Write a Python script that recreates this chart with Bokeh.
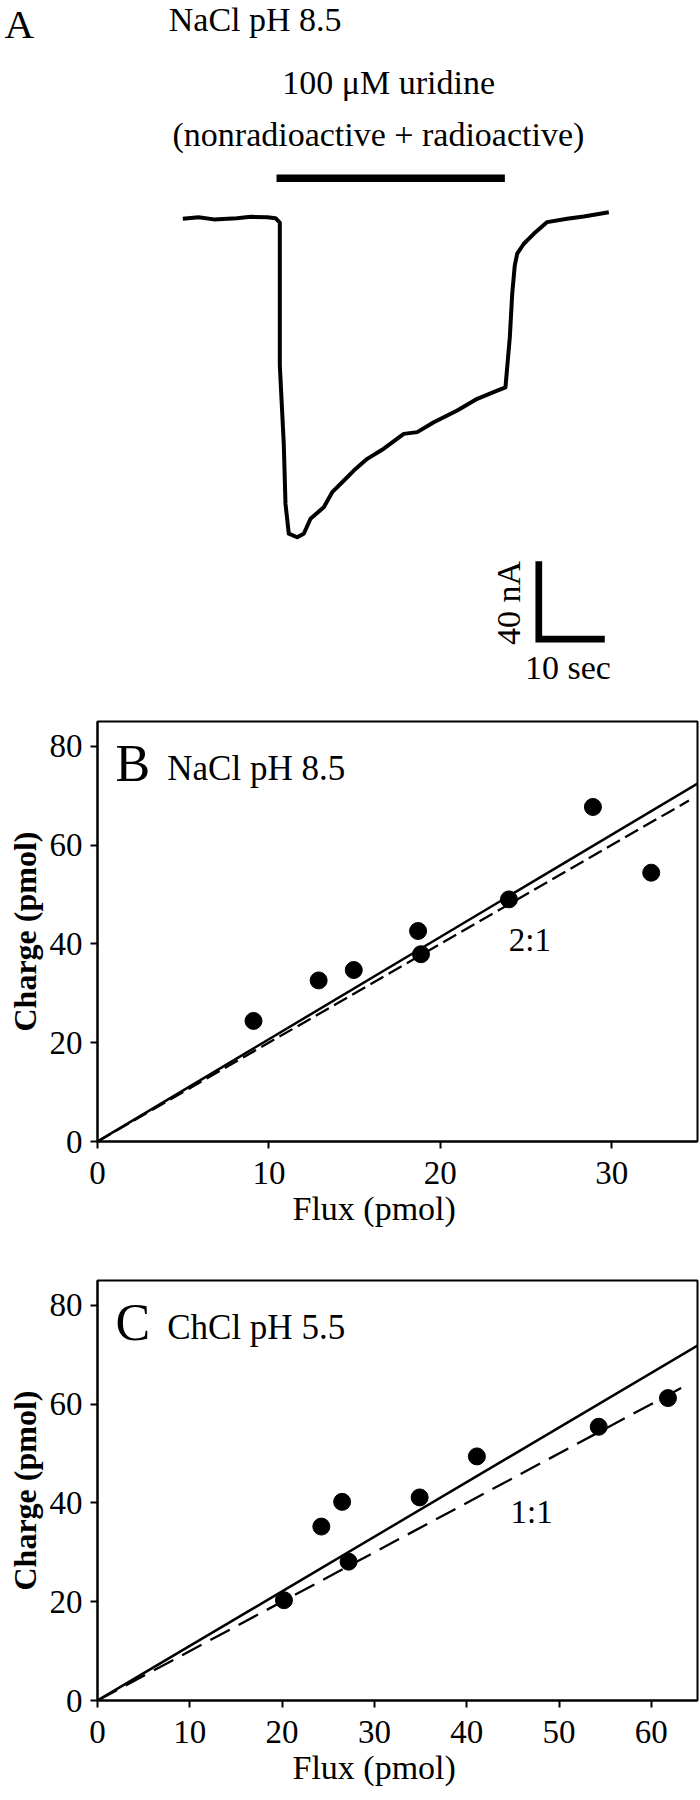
import numpy as np
from bokeh.plotting import figure
from bokeh.models import Label, FixedTicker, Range1d, Title
from bokeh.layouts import column
from bokeh.embed import file_html
from bokeh.resources import INLINE

FONT = "Liberation Serif"

# ---------------- data ----------------
# Panel A: current trace (time in s, current in nA)
trace_t = [0, 2.4, 4.7, 8.2, 10.3, 12.8, 14.05, 14.7, 14.7, 15.3, 15.56, 16.06,
           17.33, 18.33, 19.35, 21.36, 22.64, 24.15, 25.91, 27.94, 30.45, 33.48,
           35.52, 38.03, 41.58, 44.61, 47.64, 48.89, 49.24, 49.55, 49.91, 50.3,
           50.67, 51.67, 53.18, 55.21, 58.24, 60.76, 64.55]
trace_i = [0, 0.8, -0.3, 0.3, 1.0, 0.8, 0.3, -2.0, -75.2, -115.4, -146.2, -161.5,
           -163.3, -161.5, -153.8, -147.9, -140.2, -135.1, -129.1, -123.1, -117.9,
           -110.3, -109.4, -104.3, -98.3, -92.3, -88.1, -86.4, -72.7, -60.7, -38.5,
           -23.9, -17.9, -12.8, -7.7, -1.7, 0, 1.2, 3.4]
uridine_on = 14.2
uridine_off = 48.8
scale_time = 10     # sec
scale_current = 40  # nA

# Panel B: NaCl pH 8.5
b_flux = [9.1, 12.9, 14.95, 18.7, 18.87, 24.0, 28.9, 32.3]
b_charge = [24.4, 32.6, 34.7, 42.6, 37.9, 49.0, 67.7, 54.4]
b_fit_slope = 2.07
b_ratio = 2.0
b_ratio_label = "2:1"
b_x_ticks = [0, 10, 20, 30]

# Panel C: ChCl pH 5.5
c_flux = [20.2, 24.25, 26.5, 27.2, 34.9, 41.1, 54.3, 61.8]
c_charge = [20.3, 35.2, 40.2, 28.1, 41.1, 49.4, 55.4, 61.2]
c_fit_slope = 1.105
c_ratio = 1.0
c_ratio_label = "1:1"
c_x_ticks = [0, 10, 20, 30, 40, 50, 60]

y_ticks = [0, 20, 40, 60, 80]

# ---------------- Panel A ----------------
pa = figure(width=700, height=700, x_range=Range1d(-27.62, 78.44),
            y_range=Range1d(-247.03, 111.95), x_axis_type=None, y_axis_type=None,
            output_backend="svg", toolbar_location=None, min_border=0,
            frame_align=False)
pa.grid.visible = False
pa.outline_line_color = None

pa.line(trace_t, trace_i, line_width=4, color="black", line_join="round")
bar_y = 20.8
pa.line([uridine_on, uridine_off], [bar_y, bar_y], line_width=7.5, color="black",
        line_cap="butt")
sb_t, sb_i = 53.94, -175.6
pa.line([sb_t, sb_t, sb_t + scale_time],
        [sb_i, sb_i - scale_current, sb_i - scale_current],
        line_width=6.7, color="black", line_join="miter", line_cap="butt")


def lab(p, x, y, text, size, align="left", baseline="alphabetic", angle=0.0,
        style="normal"):
    # y for "alphabetic" labels is given at the em-centre of the text
    p.add_layout(Label(x=x, y=y, text=text, text_font=FONT, text_font_size=size,
                       text_align=align, text_baseline=baseline, angle=angle,
                       text_font_style=style, text_color="black"))


lab(pa, -27.0, 100.0, "A", "41px")
lab(pa, -2.12, 102.2, "NaCl pH 8.5", "34px")
lab(pa, 31.2, 69.95, "100 μM uridine", "34px", align="center")
lab(pa, 29.64, 43.45, "(nonradioactive + radioactive)", "34px", align="center")
lab(pa, 49.39, -197.0, "40 nA", "34px", align="center", baseline="middle",
    angle=np.pi / 2)
lab(pa, 58.36, -230.05, "10 sec", "34px", align="center")


# ---------------- Panels B, C ----------------
def scatter_panel(top, bottom, xmax, xticks, flux, charge, fit_slope,
                  ratio, ratio_end, dash, letter, cond, ratio_label, rl_xy,
                  letter_x, cond_x):
    p = figure(frame_width=600, frame_height=420, x_range=Range1d(0, xmax),
               y_range=Range1d(0, 85), output_backend="svg",
               toolbar_location=None, min_border_left=97, min_border_right=3,
               min_border_top=top, min_border_bottom=bottom, frame_align=False)
    p.grid.visible = False
    p.outline_line_color = "black"
    p.outline_line_width = 2
    p.xaxis.ticker = FixedTicker(ticks=xticks)
    p.yaxis.ticker = FixedTicker(ticks=y_ticks)
    for ax in p.axis:
        ax.axis_line_width = 2
        ax.axis_line_color = "black"
        ax.major_tick_line_width = 2
        ax.major_tick_line_color = "black"
        ax.major_tick_out = 7
        ax.major_tick_in = 0
        ax.minor_tick_line_color = None
        ax.major_label_text_font = FONT
        ax.major_label_text_font_size = "33px"
        ax.major_label_text_color = "black"
    p.xaxis.major_label_standoff = 13
    p.yaxis.major_label_standoff = 8
    p.yaxis.axis_label = "Charge (pmol)"
    p.yaxis.axis_label_text_font = FONT
    p.yaxis.axis_label_text_font_size = "32px"
    p.yaxis.axis_label_text_font_style = "bold"
    p.yaxis.axis_label_text_color = "black"
    p.yaxis.axis_label_standoff = 4

    p.add_layout(Title(text="Flux (pmol)", align="left", offset=195,
                       vertical_align="top", standoff=6, text_font=FONT,
                       text_font_size="34px", text_font_style="normal",
                       text_color="black"), "below")

    p.line([0, xmax], [0, fit_slope * xmax], line_width=2.5, color="black")
    p.line([0, ratio_end], [0, ratio * ratio_end], line_width=2.3, color="black",
           line_dash=dash)
    p.scatter(flux, charge, size=17, color="black")

    lab(p, letter_x, 76.6, letter, "52px")
    lab(p, cond_x, 75.5, cond, "35px")
    lab(p, rl_xy[0], rl_xy[1], ratio_label, "33px")
    return p


pb = scatter_panel(21, 119, 35, b_x_ticks, b_flux, b_charge, b_fit_slope,
                   b_ratio, 34.5, "15 6", "B", "NaCl pH 8.5", b_ratio_label,
                   (23.99, 40.74), 1.05, 4.07)
pc = scatter_panel(20, 100, 65, c_x_ticks, c_flux, c_charge, c_fit_slope,
                   c_ratio, 64, "22 10", "C", "ChCl pH 5.5", c_ratio_label,
                   (44.74, 38.14), 1.95, 7.55)

layout = column(pa, pb, pc, spacing=0)
open("out.html", "w").write(file_html(layout, INLINE))
